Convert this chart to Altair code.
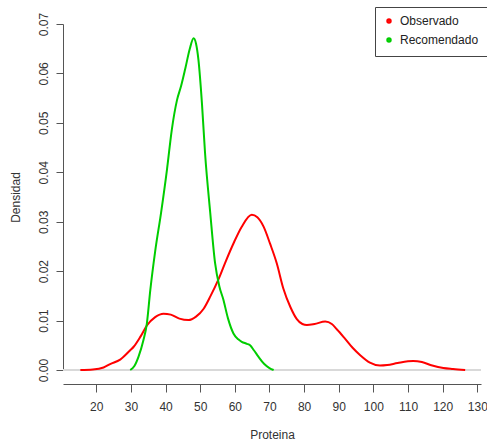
import altair as alt
import pandas as pd

# Observado (red) density curve
obs_x = [15.4, 19.0, 22.1, 24.0, 26.9, 29.8, 30.8, 32.8, 34.6, 37.0, 39.4, 41.5, 44.0, 46.6,
         48.8, 51.0, 53.0, 55.3, 57.5, 59.6, 62.0, 64.9, 66.5, 68.3, 70.2, 72.1, 74.0, 76.0,
         77.9, 79.5, 80.8, 83.0, 86.1, 88.0, 89.5, 91.5, 94.0, 96.2, 99.0, 101.9, 104.0, 107.0,
         111.5, 114.0, 117.0, 120.2, 123.0, 126.5]
obs_y = [0.0, 0.0001, 0.0005, 0.0012, 0.0021, 0.0040, 0.0047, 0.0068, 0.0090, 0.0107, 0.0114,
         0.0112, 0.0104, 0.0101, 0.0108, 0.0124, 0.0150, 0.0184, 0.0222, 0.0256, 0.0290, 0.0314,
         0.0309, 0.0290, 0.0255, 0.0216, 0.0165, 0.0128, 0.0103, 0.0093, 0.0091, 0.0093, 0.0098,
         0.0093, 0.0082, 0.0066, 0.0045, 0.0030, 0.0015, 0.0009, 0.0010, 0.0014, 0.0018, 0.0016,
         0.0009, 0.0004, 0.0002, 0.0]

# Recomendado (green) density curve
rec_x = [29.8, 31.0, 32.2, 33.6, 34.6, 35.6, 37.0, 38.7, 40.4, 41.8, 43.3, 44.5, 45.7, 47.0,
         48.1, 48.8, 49.5, 50.5, 51.4, 52.9, 54.3, 55.5, 56.7, 58.0, 59.6, 61.0, 62.0, 63.5,
         64.4, 65.5, 66.8, 68.5, 70.0, 71.2]
rec_y = [0.0, 0.0008, 0.0027, 0.0060, 0.0094, 0.0162, 0.0240, 0.0318, 0.0405, 0.0486, 0.0546,
         0.0575, 0.0610, 0.0650, 0.0671, 0.0660, 0.0627, 0.0540, 0.0439, 0.0318, 0.0216, 0.0170,
         0.0142, 0.0105, 0.0074, 0.0062, 0.0057, 0.0053, 0.0050, 0.0040, 0.0027, 0.0012, 0.0004,
         0.0]

series_names = ["Observado", "Recomendado"]
series_colors = ["#FF0000", "#00CD00"]
x_ticks = [20, 30, 40, 50, 60, 70, 80, 90, 100, 110, 120, 130]
y_ticks = [0.0, 0.01, 0.02, 0.03, 0.04, 0.05, 0.06, 0.07]
zero_level = [0.0]

df = pd.concat([
    pd.DataFrame({"Proteina": obs_x, "Densidad": obs_y, "serie": series_names[0], "i": range(len(obs_x))}),
    pd.DataFrame({"Proteina": rec_x, "Densidad": rec_y, "serie": series_names[1], "i": range(len(rec_x))}),
])

FONT = "Liberation Sans"
W, H = 418, 346

x_enc = alt.X(
    "Proteina:Q",
    title="Proteina",
    scale=alt.Scale(domain=[10.39, 131.07], nice=False, zero=False),
    axis=alt.Axis(
        values=x_ticks, offset=14, tickSize=8, labelPadding=9, grid=False,
        domainColor="#555555", tickColor="#555555", labelColor="#333333",
        labelFontSize=12, titleFontSize=12, titleFontWeight="normal", titleColor="#333333",
        titleY=50, titleBaseline="middle",
    ),
)

def y_enc():
    return alt.Y(
        "Densidad:Q",
        title="Densidad",
        scale=alt.Scale(domain=[0, 0.07], nice=False),
        axis=alt.Axis(
            values=y_ticks, format=".2f", tickSize=7, labelPadding=6, grid=False,
            labelAngle=270, labelAlign="center", labelBaseline="bottom",
            domainColor="#555555", tickColor="#555555", labelColor="#333333",
            labelFontSize=12, titleFontSize=12, titleFontWeight="normal", titleColor="#333333",
            titleX=-48, titleY=173, titleAngle=270, titleAlign="center", titleBaseline="middle",
        ),
    )

zero = alt.Chart(pd.DataFrame({"Densidad": zero_level})).mark_rule(
    color="#d9d9d9", strokeWidth=2
).encode(y=y_enc())

lines = alt.Chart(df).mark_line(strokeWidth=2, interpolate="monotone").encode(
    x=x_enc,
    y=y_enc(),
    order="i:Q",
    color=alt.Color(
        "serie:N",
        scale=alt.Scale(domain=series_names, range=series_colors),
        legend=alt.Legend(
            title=None, orient="none", legendX=312, legendY=-17,
            symbolType="circle", symbolSize=6, symbolStrokeWidth=3,
            labelFontSize=12, labelColor="#222222",
            labelOffset=5, rowPadding=3, padding=8,
            strokeColor="#444444", fillColor="white",
        ),
    ),
)

chart = (
    alt.layer(zero, lines)
    .properties(
        width=W, height=H,
        autosize=alt.AutoSizeParams(type="none"),
        padding={"left": 63, "top": 24, "right": 6, "bottom": 71},
    )
    .configure(font=FONT)
    .configure_view(strokeWidth=0)
)

chart.save("out.html", embed_options={"renderer": "svg", "actions": False})
